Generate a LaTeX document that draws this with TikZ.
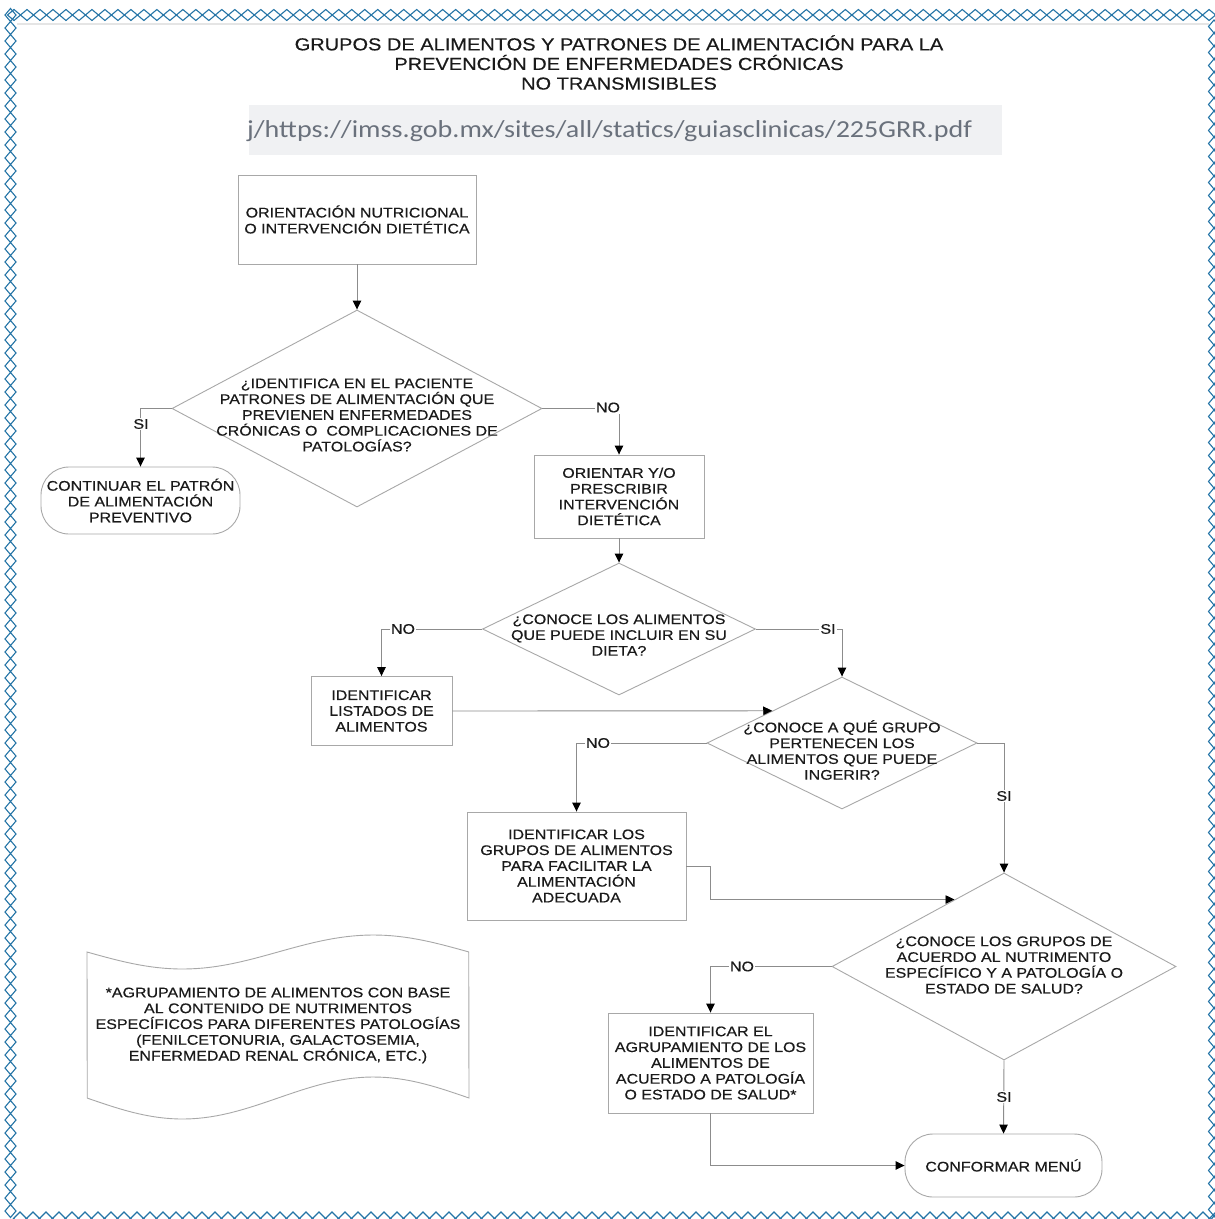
\documentclass[tikz,border=0pt]{standalone}
\usepackage{fontspec}
\setmainfont{Liberation Sans}[FakeStretch=1.15,FakeBold=0.4]
\newfontfamily\urlfam{Carlito}[FakeStretch=1.15]
\usetikzlibrary{shapes.geometric,arrows.meta,calc}
\definecolor{bordblue}{HTML}{2474A6}
\definecolor{shapegray}{HTML}{A8A8A8}
\definecolor{linegray}{HTML}{8C8C8C}
\definecolor{txtc}{HTML}{1A1A1A}
\definecolor{urlbg}{HTML}{F0F1F3}
\definecolor{urltxt}{HTML}{6A717C}
\newcommand\fdiag{\fontsize{13.9}{15.8}\selectfont}
\newcommand\ftitle{\fontsize{17.4}{19.6}\selectfont}
\newcommand\ffirst{\fontsize{13.9}{16}\selectfont}
\newcommand\furl{\urlfam\fontsize{24.4}{28}\selectfont}
\tikzset{
  bordline/.style={draw=bordblue, line width=1.1pt},
  box/.style={draw=shapegray, line width=0.9pt, fill=white, align=center, inner sep=0pt, font=\fdiag, text=txtc},
  dia/.style={draw=shapegray, line width=0.9pt, fill=white, diamond, inner sep=0pt},
  term/.style={draw=shapegray, line width=0.9pt, fill=white, rounded corners=28pt, align=center, inner sep=0pt, font=\fdiag, text=txtc},
  txt/.style={align=center, inner sep=0pt, font=\fdiag, text=txtc},
  lbl/.style={fill=white, inner sep=1.2pt, font=\fdiag, text=txtc},
  conn/.style={draw=linegray, line width=0.9pt, -{Triangle[width=8.5pt,length=9pt,color=black]}},
}
\begin{document}
\begin{tikzpicture}[x=1pt,y=-1pt]
\useasboundingbox (0,0) rectangle (1215,1219);
\clip (0,0) rectangle (1215,1219);
\fill[white] (0,0) rectangle (1215,1219);
% page frame
\draw[draw=black!10, line width=2pt] (17,24) -- (1209,24);
\foreach \i in {0,...,92} {
  \draw[bordline] ({14+12.99*\i},9.5) -- ++(6.5,5.5) -- ++(-6.5,5.5) -- ++(-6.5,-5.5) -- cycle;
  \draw[bordline] (10.5,{8.5+13*\i}) -- ++(5.5,6.5) -- ++(-5.5,6.5) -- ++(-5.5,-6.5) -- cycle;
  \draw[bordline] (1214,{20+13*\i}) -- ++(5.5,6.5) -- ++(-5.5,6.5) -- ++(-5.5,-6.5) -- cycle;
  \draw[bordline] ({20+13*\i},1212) -- ++(6.5,6.5) -- ++(-6.5,6.5) -- ++(-6.5,-6.5) -- cycle;
}
% title
\node[txt, font=\ftitle] (title) at (619,62.5) {GRUPOS DE ALIMENTOS Y PATRONES DE ALIMENTACIÓN PARA LA\\PREVENCIÓN DE ENFERMEDADES CRÓNICAS\\NO TRANSMISIBLES};
% url bar
\fill[urlbg] (249,105) rectangle (1002,155);
\node[anchor=west, inner sep=0pt, font=\furl, text=urltxt] (url) at (247,131) {j/https://imss.gob.mx/sites/all/statics/guiasclinicas/225GRR.pdf};
% nodes
\node[box, font=\ffirst, minimum width=238, minimum height=89] (b1) at (357,219.5) {ORIENTACIÓN NUTRICIONAL\\O INTERVENCIÓN DIETÉTICA};
\node[dia, minimum width=370, minimum height=197] (d1) at (357,408.5) {};
\node[txt] (d1t) at (357,415) {¿IDENTIFICA EN EL PACIENTE\\PATRONES DE ALIMENTACIÓN QUE\\PREVIENEN ENFERMEDADES\\CRÓNICAS O \ COMPLICACIONES DE\\PATOLOGÍAS?};
\node[term, minimum width=199, minimum height=67] (s1) at (140.5,500.5) {CONTINUAR EL PATRÓN\\DE ALIMENTACIÓN\\PREVENTIVO};
\node[box, minimum width=170, minimum height=83] (b2) at (619,496.5) {ORIENTAR Y/O\\PRESCRIBIR\\INTERVENCIÓN\\DIETÉTICA};
\node[dia, minimum width=273, minimum height=132] (d2) at (619,629) {};
\node[txt] (d2t) at (619,635) {¿CONOCE LOS ALIMENTOS\\QUE PUEDE INCLUIR EN SU\\DIETA?};
\node[box, minimum width=141, minimum height=69] (b3) at (381.5,711) {IDENTIFICAR\\LISTADOS DE\\ALIMENTOS};
\node[dia, minimum width=270, minimum height=132] (d3) at (842,743) {};
\node[txt] (d3t) at (842,750) {¿CONOCE A QUÉ GRUPO\\PERTENECEN LOS\\ALIMENTOS QUE PUEDE\\INGERIR?};
\node[box, minimum width=219, minimum height=108] (b4) at (576.5,866) {IDENTIFICAR LOS\\GRUPOS DE ALIMENTOS\\PARA FACILITAR LA\\ALIMENTACIÓN\\ADECUADA};
\node[dia, minimum width=344, minimum height=187] (d4) at (1004,966.5) {};
\node[txt] (d4t) at (1004,965) {¿CONOCE LOS GRUPOS DE\\ACUERDO AL NUTRIMENTO\\ESPECÍFICO Y A PATOLOGÍA O\\ESTADO DE SALUD?};
\node[box, minimum width=205, minimum height=100] (b5) at (710.5,1063) {IDENTIFICAR EL\\AGRUPAMIENTO DE LOS\\ALIMENTOS DE\\ACUERDO A PATOLOGÍA\\O ESTADO DE SALUD*};
\node[term, minimum width=197, minimum height=63] (t2) at (1003.5,1165.5) {CONFORMAR MENÚ};
% tape (note)
\draw[draw=shapegray, line width=0.9pt] plot[domain=0:1, samples=60] ({87+382*\x},{952+17*sin(360*\x)}) -- plot[domain=1:0, samples=60] ({87+382*\x},{1098+21*sin(360*\x)}) -- cycle;
\node[txt] (note) at (278,1025.5) {*AGRUPAMIENTO DE ALIMENTOS CON BASE\\AL CONTENIDO DE NUTRIMENTOS\\ESPECÍFICOS PARA DIFERENTES PATOLOGÍAS\\(FENILCETONURIA, GALACTOSEMIA,\\ENFERMEDAD RENAL CRÓNICA, ETC.)};
% entry points on diamond edges
\coordinate (d3in) at ($(d3.north)!0.515!(d3.west)$);
\coordinate (d4in) at ($(d4.north)!0.287!(d4.west)$);
% connectors
\draw[conn] (b1.south) -- (d1.north);
\draw[conn] (d1.west) -| (s1.north);
\draw[conn] (d1.east) -| (b2.north);
\draw[conn] (b2.south) -- (d2.north);
\draw[conn] (d2.west) -| (b3.north);
\draw[conn] (d2.east) -| (d3.north);
\draw[conn] (b3.east) -- (d3in);
\draw[conn] (d3.west) -| (b4.north);
\draw[conn] (d3.east) -| (d4.north);
\draw[conn] (b4.east) -- (b4.east -| b5.north) |- (d4in);
\draw[conn] (d4.west) -| (b5.north);
\draw[conn] (d4.south) -- (t2.north);
\draw[conn] (b5.south) |- (t2.west);
% labels
\node[lbl] (l1) at (141,424) {SI};
\node[lbl] (l2) at (608,407.5) {NO};
\node[lbl] (l3) at (403,629) {NO};
\node[lbl] (l4) at (828,629) {SI};
\node[lbl] (l5) at (598,743) {NO};
\node[lbl] (l6) at (1004,796) {SI};
\node[lbl] (l7) at (742,966.5) {NO};
\node[lbl] (l8) at (1004,1097) {SI};
\end{tikzpicture}
\end{document}
